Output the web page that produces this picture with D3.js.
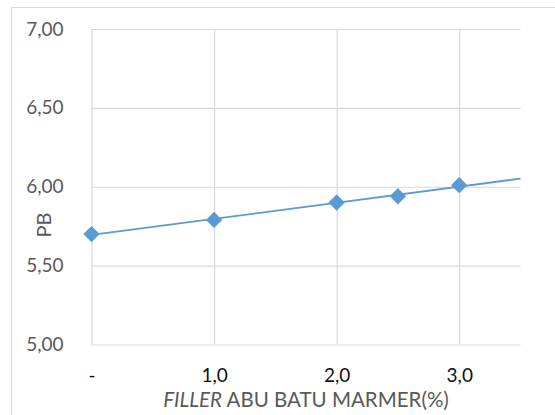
<!DOCTYPE html>
<html>
<head>
<meta charset="utf-8">
<script src="https://cdn.jsdelivr.net/npm/d3@7"></script>
<style>
  html, body { margin: 0; padding: 0; background: #fff; }
  svg { display: block; font-family: Lato, "Open Sans", sans-serif; }
</style>
</head>
<body>
<svg id="chart" width="555" height="415"></svg>
<script>
// Filler content (%) and measured PB values
const fillerPct = [0, 1.0, 2.0, 2.5, 3.0];
const pbValues  = [5.70, 5.79, 5.90, 5.94, 6.01];
const xTicks = [0, 1, 2, 3];
const yTicks = [5.0, 5.5, 6.0, 6.5, 7.0];
const xDomain = [0, 3.5];
const yDomain = [5.0, 7.0];

const svg = d3.select("#chart");
const W = 555, H = 415;
const margin = { left: 91.5, right: W - 520.5, top: 29, bottom: H - 344.5 };

const x = d3.scaleLinear().domain(xDomain).range([margin.left, W - margin.right]);
const y = d3.scaleLinear().domain(yDomain).range([H - margin.bottom, margin.top]);

const gridColor = "#d9d9d9";
const commaFmt = (d, digits) => d.toFixed(digits).replace(".", ",");

// chart frame (left and top edges)
svg.append("path")
  .attr("d", `M11.5,${H} V7.5 H${W}`)
  .attr("fill", "none").attr("stroke", gridColor).attr("stroke-width", 1);

// horizontal gridlines + y tick labels
const yAxis = d3.axisLeft(y).tickValues(yTicks)
  .tickSize(-(x.range()[1] - x.range()[0]))
  .tickPadding(28)
  .tickFormat(d => commaFmt(d, 2));
const gy = svg.append("g").attr("transform", `translate(${x.range()[0]},0)`).call(yAxis);
gy.select(".domain").remove();
gy.selectAll(".tick line").attr("stroke", gridColor).attr("stroke-width", 1.2);
gy.selectAll(".tick text").attr("fill", "#595959").attr("font-size", 19)
  .attr("font-family", "Lato, sans-serif");

// vertical gridlines + x tick labels
const xAxis = d3.axisBottom(x).tickValues(xTicks)
  .tickSize(-(y.range()[0] - y.range()[1]))
  .tickPadding(24)
  .tickFormat(d => d === 0 ? "-" : commaFmt(d, 1));
const gx = svg.append("g").attr("transform", `translate(0,${y.range()[0]})`).call(xAxis);
gx.select(".domain").remove();
gx.selectAll(".tick line").attr("stroke", gridColor).attr("stroke-width", 1.2);
gx.selectAll(".tick text").attr("fill", "#111").attr("font-size", 19)
  .attr("font-family", "Lato, sans-serif");

// linear trend line, extended to the end of the axis
const mx = d3.mean(fillerPct), my = d3.mean(pbValues);
const slope = d3.sum(fillerPct, (v, i) => (v - mx) * (pbValues[i] - my)) /
              d3.sum(fillerPct, v => (v - mx) * (v - mx));
const intercept = my - slope * mx;
const trend = xDomain.map(v => [v, intercept + slope * v]);
svg.append("path")
  .datum(trend)
  .attr("d", d3.line().x(d => x(d[0])).y(d => y(d[1])))
  .attr("fill", "none").attr("stroke", "#5b9bd5").attr("stroke-width", 1.8);

// diamond markers
const diamond = d3.symbol().type(d3.symbolDiamond2).size(170);
svg.append("g").selectAll("path")
  .data(fillerPct.map((v, i) => [v, pbValues[i]]))
  .join("path")
  .attr("d", diamond)
  .attr("transform", d => `translate(${x(d[0])},${y(d[1])})`)
  .attr("fill", "#5b9bd5");

// axis titles
svg.append("text")
  .attr("transform", `translate(51,225) rotate(-90)`)
  .attr("text-anchor", "middle")
  .attr("fill", "#595959").attr("font-size", 20)
  .text("PB");

const title = svg.append("text")
  .attr("x", (x.range()[0] + x.range()[1]) / 2)
  .attr("y", 407)
  .attr("text-anchor", "middle")
  .attr("fill", "#595959").attr("font-size", 20.5);
title.append("tspan").attr("font-style", "italic").text("FILLER");
title.append("tspan").text(" ABU BATU MARMER(%)");
</script>
</body>
</html>
